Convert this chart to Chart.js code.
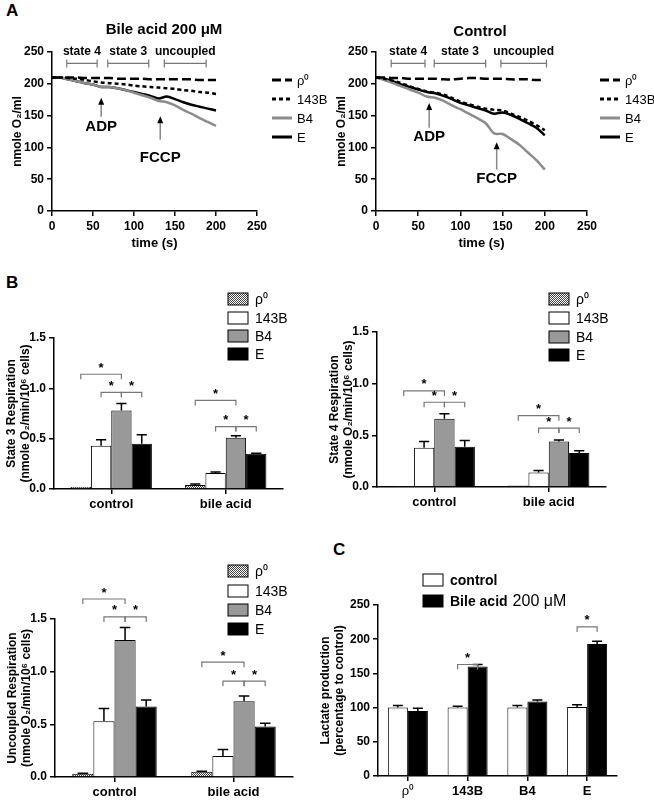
<!DOCTYPE html>
<html>
<head>
<meta charset="utf-8">
<script src="https://cdn.jsdelivr.net/npm/chart.js@4.4.1/dist/chart.umd.min.js"></script>
<style>
  body { margin: 0; background: #fff; width: 654px; height: 800px; position: relative; font-family: "Liberation Sans", Arial, sans-serif; }
  canvas { position: absolute; }
  .tag { position: absolute; font-weight: bold; font-size: 17px; }
</style>
</head>
<body>
<div class="tag" style="left:6px;top:1px">A</div>
<div class="tag" style="left:6px;top:273px">B</div>
<div class="tag" style="left:333px;top:540px">C</div>
<script>
const FONT = "Liberation Sans";

// ---- panel A: oxygen traces (nmole O2/ml) ----
const timeS = [0, 10, 20, 30, 40, 50, 60, 70, 80, 90, 100, 110, 120, 130, 140, 150, 160, 170, 180, 190, 200];
const bileRho0 = [210, 210, 210, 210, 209, 209, 209, 209, 208, 208, 208, 208, 207, 207, 207, 207, 207, 207, 206, 206, 206];
const bile143B = [210, 210, 209, 208, 206, 204, 202, 201, 200, 199, 197, 196, 195, 194, 193, 192, 190, 189, 187, 186, 184];
const bileB4 = [210, 210, 207, 204, 201, 199, 195, 195, 193, 190, 186, 182, 178, 173, 171, 166, 159, 153, 146, 140, 134];
const bileE = [210, 210, 207, 204, 201, 199, 195, 195, 193, 190, 187, 184, 181, 177, 180, 176, 171, 167, 164, 161, 158];
const ctrlRho0 = [210, 210, 209, 209, 208, 208, 208, 208, 207, 207, 208, 209, 209, 208, 208, 208, 207, 207, 207, 206, 206];
const ctrl143B = [210, 208, 205, 201, 196, 192, 188, 186, 183, 178, 172, 168, 164, 161, 159, 158, 153, 148, 142, 135, 127];
const ctrlB4 = [210, 206, 201, 196, 191, 186, 180, 178, 173, 166, 160, 153, 146, 138, 122, 121, 113, 104, 92, 80, 65];
const ctrlE = [210, 208, 204, 199, 195, 191, 187, 185, 181, 176, 170, 166, 162, 158, 153, 155, 151, 145, 138, 131, 119];
const traceNames = ["ρ⁰", "143B", "B4", "E"];

// ---- panel B: respiration (nmole O2/min/10^6 cells), rows = ρ0, 143B, B4, E; cols = control, bile acid ----
const respGroups = ["control", "bile acid"];
const state3Mean = [[0.02, 0.04], [0.43, 0.16], [0.78, 0.51], [0.45, 0.35]];
const state3Sem = [[0, 0.01], [0.06, 0.01], [0.07, 0.02], [0.09, 0.005]];
const state4Mean = [[0.01, 0.015], [0.38, 0.14], [0.66, 0.44], [0.39, 0.33]];
const state4Sem = [[0, 0], [0.06, 0.02], [0.05, 0.015], [0.06, 0.02]];
const uncMean = [[0.03, 0.05], [0.53, 0.2], [1.3, 0.72], [0.67, 0.48]];
const uncSem = [[0.005, 0.005], [0.12, 0.06], [0.12, 0.05], [0.06, 0.03]];

// ---- panel C: lactate (% of control) ----
const lactCells = ["ρ⁰", "143B", "B4", "E"];
const lactControl = [100, 100, 100, 101];
const lactControlSem = [3, 2, 3, 3];
const lactBile = [95, 160, 109, 193];
const lactBileSem = [4, 3, 2, 4];

function checker () {
	const c = document.createElement("canvas");
	c.width = c.height = 2;
	const x = c.getContext("2d");
	x.fillStyle = "#fff"; x.fillRect(0, 0, 2, 2);
	x.fillStyle = "#444"; x.fillRect(0, 0, 1, 1); x.fillRect(1, 1, 1, 1);
	return x.createPattern(c, "repeat");
}
const barFills = [checker(), "#fff", "#999", "#000"];

function makeCanvas (rect) {
	const cv = document.createElement("canvas");
	cv.width = rect.w; cv.height = rect.h;
	cv.style.left = rect.x + "px"; cv.style.top = rect.y + "px";
	cv.style.width = rect.w + "px"; cv.style.height = rect.h + "px";
	document.body.append(cv);
	return cv;
}

function padding (rect, area, yW, xH) {
	return { left: area.l - rect.x - yW, top: area.t - rect.y, right: rect.x + rect.w - area.r, bottom: rect.y + rect.h - area.b - xH };
}

function axisBase () {
	return {
		border: { color: "#000", width: 1.5 },
		grid: { display: true, drawOnChartArea: false, drawTicks: true, tickLength: 5, color: "#000", lineWidth: 1.5 },
		ticks: { color: "#000", font: { family: FONT, size: 12, weight: "bold" }, padding: 3 }
	};
}

// draws titles, legends, error bars, brackets and arrows
const extras = {
	id: "extras",
	afterDatasetsDraw (chart) {
		const o = chart.options.plugins.extras;
		const ctx = chart.ctx;
		const r = o.rect;
		const sx = chart.scales.x, sy = chart.scales.y;
		ctx.save();
		ctx.textBaseline = "middle";
		(o.errors || []).forEach((errs, di) => {
			const meta = chart.getDatasetMeta(di);
			errs.forEach((e, i) => {
				if (!e) return;
				const bar = meta.data[i];
				const v = chart.data.datasets[di].data[i];
				const yt = sy.getPixelForValue(v + e);
				const cap = bar.width * 0.25;
				ctx.strokeStyle = "#000"; ctx.lineWidth = 1.5;
				ctx.beginPath();
				ctx.moveTo(bar.x, bar.y); ctx.lineTo(bar.x, yt);
				ctx.moveTo(bar.x - cap, yt); ctx.lineTo(bar.x + cap, yt);
				ctx.stroke();
			});
		});
		(o.brackets || []).forEach((b) => {
			const x1 = chart.getDatasetMeta(b[0]).data[b[2]].x;
			const x2 = chart.getDatasetMeta(b[1]).data[b[2]].x;
			const y = sy.getPixelForValue(b[3]);
			ctx.strokeStyle = "#777"; ctx.lineWidth = 1.2;
			ctx.beginPath();
			ctx.moveTo(x1, y + 5); ctx.lineTo(x1, y); ctx.lineTo(x2, y); ctx.lineTo(x2, y + 5);
			ctx.stroke();
			ctx.fillStyle = "#000"; ctx.textAlign = "center";
			ctx.font = `bold 13px ${FONT}`;
			ctx.fillText("*", (x1 + x2) / 2, y - 6);
		});
		(o.states || []).forEach((s) => {
			const x1 = sx.getPixelForValue(s[1]), x2 = sx.getPixelForValue(s[2]);
			const y = sy.getPixelForValue(232);
			ctx.strokeStyle = "#777"; ctx.lineWidth = 1.2;
			ctx.beginPath();
			ctx.moveTo(x1, y - 4); ctx.lineTo(x1, y + 4);
			ctx.moveTo(x1, y); ctx.lineTo(x2, y);
			ctx.moveTo(x2, y - 4); ctx.lineTo(x2, y + 4);
			ctx.stroke();
			ctx.fillStyle = "#000"; ctx.textAlign = "center";
			ctx.font = `bold 12px ${FONT}`;
			ctx.fillText(s[0], (x1 + x2) / 2, y - 12);
		});
		(o.arrows || []).forEach((a) => {
			const x = sx.getPixelForValue(a[1]);
			const yh = sy.getPixelForValue(a[2]), yt = sy.getPixelForValue(a[3]);
			ctx.strokeStyle = "#888"; ctx.lineWidth = 1.5;
			ctx.beginPath(); ctx.moveTo(x, yt); ctx.lineTo(x, yh + 5); ctx.stroke();
			ctx.fillStyle = "#000";
			ctx.beginPath(); ctx.moveTo(x, yh); ctx.lineTo(x - 3, yh + 7); ctx.lineTo(x + 3, yh + 7); ctx.closePath(); ctx.fill();
			ctx.textAlign = "center"; ctx.font = `bold 15px ${FONT}`;
			ctx.fillText(a[0], x, sy.getPixelForValue(a[4]));
		});
		if (o.title) {
			ctx.fillStyle = "#000"; ctx.textAlign = "center";
			ctx.font = `bold 15px ${FONT}`;
			ctx.fillText(o.title[0], o.title[1] - r.x, o.title[2] - r.y);
		}
		if (o.lineLegend) {
			const L = o.lineLegend;
			chart.data.datasets.forEach((ds, i) => {
				const y = L.y[i] - r.y, x = L.x - r.x;
				ctx.strokeStyle = ds.borderColor; ctx.lineWidth = 3;
				ctx.setLineDash(ds.borderDash || []);
				ctx.beginPath(); ctx.moveTo(x, y); ctx.lineTo(x + 20, y); ctx.stroke();
				ctx.setLineDash([]);
				ctx.fillStyle = "#000"; ctx.textAlign = "left"; ctx.font = `13px ${FONT}`;
				ctx.fillText(ds.label, x + 25, y + 1);
			});
		}
		if (o.barLegend) {
			const L = o.barLegend;
			L.labels.forEach((lab, i) => {
				const y = L.y[i] - r.y, x = L.x - r.x;
				ctx.fillStyle = L.fills[i];
				ctx.fillRect(x, y - 6, 20, 12);
				ctx.strokeStyle = "#000"; ctx.lineWidth = 1;
				ctx.strokeRect(x, y - 6, 20, 12);
				ctx.fillStyle = "#000"; ctx.textAlign = "left";
				ctx.font = L.fonts ? L.fonts[i] : `14px ${FONT}`;
				ctx.fillText(lab, x + 27, y + 1);
				if (L.extra && L.extra[i]) {
					const w = ctx.measureText(lab).width;
					ctx.font = `16px ${FONT}`;
					ctx.fillText(L.extra[i], x + 27 + w + 5, y + 1);
				}
			});
		}
		ctx.restore();
	}
};

function traceChart (rect, area, title, series, states, arrows, legendX) {
	const styles = [
		{ borderColor: "#000", borderDash: [9, 4] },
		{ borderColor: "#000", borderDash: [4, 3] },
		{ borderColor: "#8c8c8c", borderDash: [] },
		{ borderColor: "#000", borderDash: [] }
	];
	const xAxis = axisBase(), yAxis = axisBase();
	Object.assign(xAxis, { type: "linear", min: 0, max: 250, afterFit: (s) => { s.height = 40; } });
	xAxis.ticks.stepSize = 50;
	xAxis.title = { display: true, text: "time (s)", color: "#000", font: { family: FONT, size: 13, weight: "bold" }, padding: 0 };
	Object.assign(yAxis, { min: 0, max: 250, afterFit: (s) => { s.width = 42; } });
	yAxis.ticks.stepSize = 50;
	yAxis.title = { display: true, text: "nmole O₂/ml", color: "#000", font: { family: FONT, size: 12, weight: "bold" }, padding: 0 };
	new Chart(makeCanvas(rect), {
		type: "line",
		data: {
			datasets: series.map((d, i) => ({
				label: traceNames[i],
				data: timeS.map((t, k) => ({ x: t, y: d[k] })),
				borderWidth: 2.5, pointRadius: 0, tension: 0.3, fill: false,
				...styles[i]
			}))
		},
		options: {
			responsive: false, animation: false,
			layout: { padding: padding(rect, area, 42, 40) },
			scales: { x: xAxis, y: yAxis },
			plugins: {
				legend: { display: false }, tooltip: { enabled: false },
				extras: { rect, title, states, arrows, lineLegend: { x: legendX, y: [80, 99, 118, 137] } }
			}
		},
		plugins: [extras]
	});
}

function barChart (rect, area, labels, datasets, errors, yCfg, yTitle, legend, brackets, catPct, xFont, yW) {
	yW = yW || 50;
	const xAxis = axisBase(), yAxis = axisBase();
	Object.assign(xAxis, { type: "category", offset: true, afterFit: (s) => { s.height = 22; } });
	xAxis.grid.offset = false;
	xAxis.ticks.font = xFont || { family: FONT, size: 13, weight: "bold" };
	Object.assign(yAxis, { min: 0, max: yCfg.max, afterFit: (s) => { s.width = yW; } });
	yAxis.ticks.stepSize = yCfg.step;
	yAxis.ticks.callback = yCfg.fmt;
	yAxis.title = { display: true, text: yTitle, color: "#000", font: { family: FONT, size: 12, weight: "bold" }, padding: 0 };
	new Chart(makeCanvas(rect), {
		type: "bar",
		data: { labels, datasets },
		options: {
			responsive: false, animation: false,
			datasets: { bar: { categoryPercentage: catPct, barPercentage: 1, borderColor: "#000", borderWidth: 1 } },
			layout: { padding: padding(rect, area, yW, 22) },
			scales: { x: xAxis, y: yAxis },
			plugins: {
				legend: { display: false }, tooltip: { enabled: false },
				extras: { rect, errors, brackets, barLegend: legend }
			}
		},
		plugins: [extras]
	});
}

// A
traceChart({ x: 0, y: 0, w: 327, h: 262 }, { l: 52, r: 257, t: 52, b: 211 },
	["Bile acid 200 μM", 164, 30], [bileRho0, bile143B, bileB4, bileE],
	[["state 4", 18, 55], ["state 3", 68, 118], ["uncoupled", 137, 188]],
	[["ADP", 60, 178, 148, 132], ["FCCP", 132, 149, 112, 84]], 272);
traceChart({ x: 327, y: 0, w: 327, h: 262 }, { l: 376, r: 587, t: 52, b: 211 },
	["Control", 480, 32], [ctrlRho0, ctrl143B, ctrlB4, ctrlE],
	[["state 4", 18, 58], ["state 3", 69, 130], ["uncoupled", 148, 202]],
	[["ADP", 63, 170, 131, 116], ["FCCP", 143, 108, 65, 50]], 600);

// B
const respCfg = { max: 1.5, step: 0.5, fmt: (v) => v.toFixed(1) };
function respSets (mean) {
	return mean.map((m, i) => ({ label: traceNames[i], data: m, backgroundColor: barFills[i] }));
}
function legendAt (x, ys) {
	return { x, y: ys, labels: traceNames, fills: barFills };
}
barChart({ x: 0, y: 270, w: 327, h: 250 }, { l: 54, r: 283, t: 338, b: 489 }, respGroups,
	respSets(state3Mean), state3Sem, respCfg, ["State 3 Respiration", "(nmole O₂/min/10⁶ cells)"],
	legendAt(228, [299, 318, 336, 354]),
	[[0, 2, 0, 1.14], [1, 2, 0, 0.96], [2, 3, 0, 0.96], [0, 2, 1, 0.88], [1, 2, 1, 0.62], [2, 3, 1, 0.62]], 0.71);
barChart({ x: 327, y: 270, w: 327, h: 250 }, { l: 377, r: 606, t: 332, b: 487 }, respGroups,
	respSets(state4Mean), state4Sem, respCfg, ["State 4 Respiration", "(nmole O₂/min/10⁶ cells)"],
	legendAt(549, [299, 318, 337, 355]),
	[[0, 2, 0, 0.93], [1, 2, 0, 0.82], [2, 3, 0, 0.82], [0, 2, 1, 0.69], [1, 2, 1, 0.57], [2, 3, 1, 0.57]], 0.71);
barChart({ x: 0, y: 530, w: 327, h: 270 }, { l: 55, r: 293, t: 619, b: 777 }, respGroups,
	respSets(uncMean), uncSem, respCfg, ["Uncoupled Respiration", "(nmole O₂/min/10⁶ cells)"],
	legendAt(228, [571, 591, 610, 629]),
	[[0, 2, 0, 1.69], [1, 2, 0, 1.52], [2, 3, 0, 1.52], [0, 2, 1, 1.09], [1, 2, 1, 0.91], [2, 3, 1, 0.91]], 0.71);

// C
barChart({ x: 316, y: 530, w: 338, h: 270 }, { l: 378, r: 617, t: 605, b: 776 }, lactCells,
	[{ label: "control", data: lactControl, backgroundColor: "#fff" }, { label: "Bile acid", data: lactBile, backgroundColor: "#000" }],
	[lactControlSem, lactBileSem], { max: 250, step: 50, fmt: (v) => v },
	["Lactate production", "(percentage to control)"],
	{ x: 423, y: [580, 601], labels: ["control", "Bile acid"], fills: ["#fff", "#000"], fonts: [`bold 14px ${FONT}`, `bold 14px ${FONT}`], extra: [null, "200 μM"] },
	[[0, 1, 1, 163], [0, 1, 3, 218]], 0.67,
	(c) => ({ family: FONT, size: 13, weight: c.index === 0 ? "normal" : "bold" }), 60);
</script>
</body>
</html>
